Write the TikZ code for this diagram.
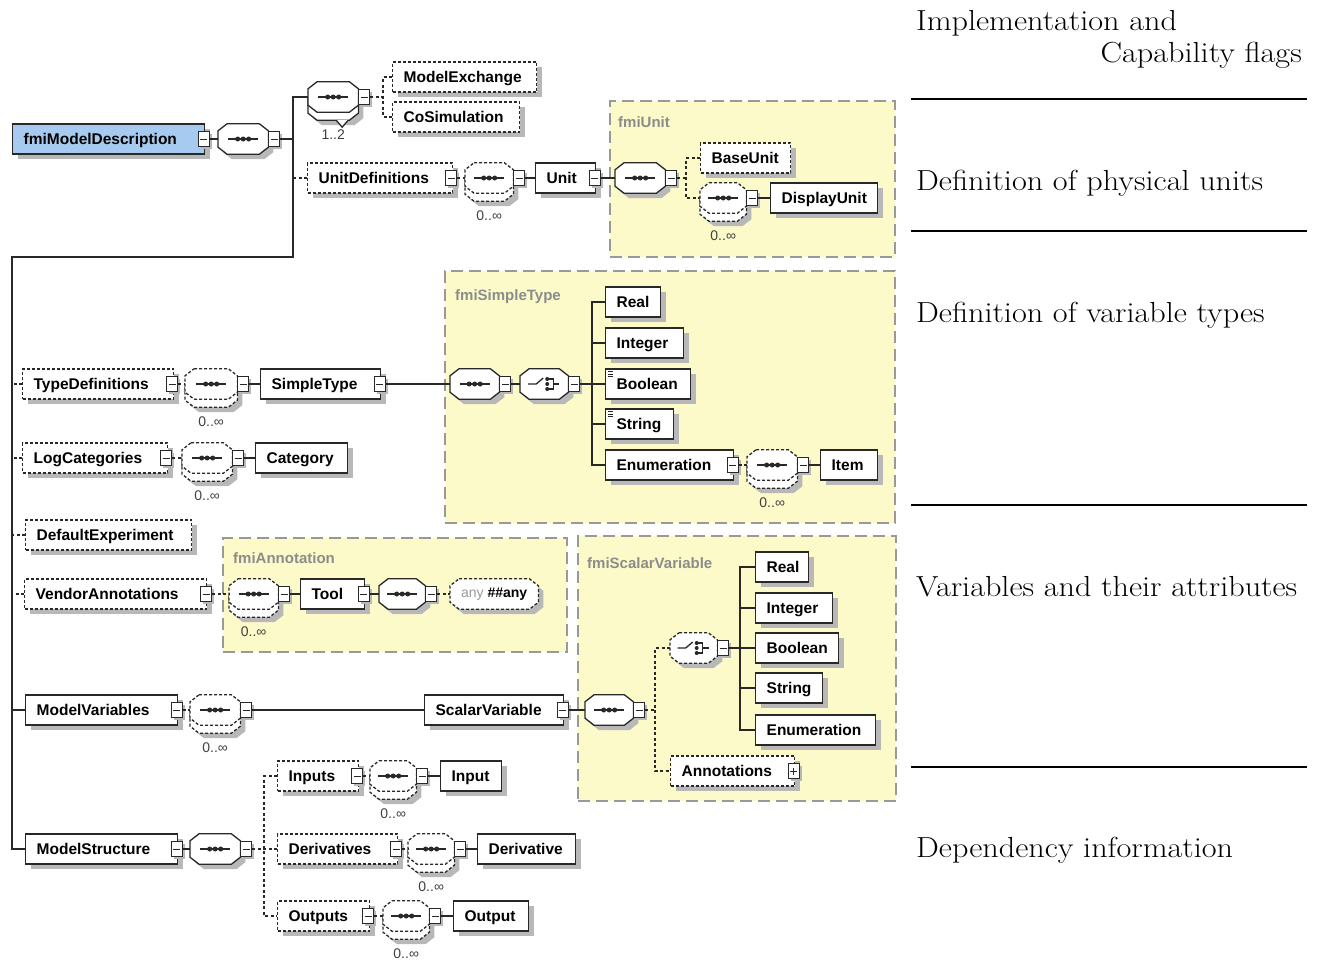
\documentclass[tikz,border=0pt]{standalone}
\usepackage{fontspec}
\usepackage{graphicx}
\newfontfamily\nodefont{Liberation Sans}
\usetikzlibrary{shadows}
\definecolor{grpfill}{RGB}{252,250,200}
\definecolor{rootfill}{RGB}{166,202,240}
\definecolor{lineclr}{RGB}{40,40,40}

\tikzset{
  conn/.style={draw=lineclr, line width=1.4pt},
  optconn/.style={conn, dash pattern=on 3pt off 2.5pt},
  shad/.style={drop shadow={shadow xshift=5pt, shadow yshift=-5pt, fill=black!28, opacity=1}},
  smallshad/.style={drop shadow={shadow xshift=2.5pt, shadow yshift=-2.5pt, fill=black!28, opacity=1}},
  elem/.style={draw=lineclr, line width=1.3pt, fill=white, anchor=west, minimum height=30,
    inner xsep=11, inner ysep=0, text height=12pt, text depth=2pt,
    font=\nodefont\bfseries\fontsize{15.5}{18}\selectfont, align=left, shad},
  bw/.style={text width=#1-22},
  optelem/.style={elem, dash pattern=on 3pt off 2pt},
  pmbox/.style={draw=lineclr, fill=white, line width=1pt, minimum width=11, minimum height=15, inner sep=0, smallshad},
  octbase/.style={anchor=west, minimum height=30, inner sep=0},
  octline/.style={draw=lineclr, line width=1.3pt, fill=white},
  optoctline/.style={octline, dash pattern=on 3pt off 2pt},
  grp/.style={draw=black!40, line width=2pt, dash pattern=on 12pt off 6pt, fill=grpfill, anchor=north west, inner sep=0},
  grplabel/.style={anchor=west, inner sep=0, text=black!45, font=\nodefont\bfseries\fontsize{15}{18}\selectfont},
  mult/.style={inner sep=0, text=black!75, font=\nodefont\fontsize{14}{16}\selectfont},
  note/.style={inner sep=0, font=\fontsize{29}{34}\selectfont},
  sep/.style={draw=black, line width=1.5pt},
}

% wide setting of the explanatory texts
\newcommand{\widetext}[1]{\scalebox{1.11}[1]{#1}}
% element box: style, name, west point, width, label
\newcommand{\elm}[5]{\node[#1, bw=#4] (#2) at (#3) {\mbox{#5}};}
% collapse / expand buttons
\newcommand{\minusat}[2]{\node[pmbox] (#1) at (#2) {};
  \draw[line width=1pt, lineclr] ([xshift=-3.5pt]#1.center) -- ([xshift=3.5pt]#1.center);}
\newcommand{\plusat}[2]{\minusat{#1}{#2}%
  \draw[line width=1pt, lineclr] ([yshift=-3.5pt]#1.center) -- ([yshift=3.5pt]#1.center);}
% octagon outline around a node
\newcommand{\octpath}[2]{\path[#2] ([xshift=9pt]#1.north west) -- ([xshift=-9pt]#1.north east)
  -- ([yshift=-7pt]#1.north east) -- ([yshift=7pt]#1.south east) -- ([xshift=-9pt]#1.south east)
  -- ([xshift=9pt]#1.south west) -- ([yshift=7pt]#1.south west) -- ([yshift=-7pt]#1.north west) -- cycle;}
% sequence symbol
\newcommand{\seqicon}[1]{\draw[line width=1.3pt, lineclr] ([xshift=-15pt]#1.center) -- ([xshift=15pt]#1.center);
  \foreach \d in {-5.5,0,5.5} \fill[lineclr] ([xshift=\d pt]#1.center) circle[radius=2.5pt];}
% choice symbol
\newcommand{\choiceicon}[1]{\begin{scope}[shift={(#1.center)}, line width=1.3pt, lineclr]
  \draw (-16,0) -- (-8,0) -- (-1,-6);
  \draw (3,-5) -- (9,-5) -- (9,5) -- (3,5);
  \draw (9,0) -- (15,0);
  \foreach \d in {-5,0,5} \fill (3,\d) circle[radius=2];
\end{scope}}
% list marker
\newcommand{\listicon}[1]{\foreach \k in {3,5.5,8}
  \draw[line width=0.7pt, lineclr] ([xshift=3pt, yshift=-\k pt]#1.north west) -- ++(5,0);}
% sequence compositor: name, west point, width
\newcommand{\seqc}[3]{\node[octbase, minimum width=#3] (#1) at (#2) {};
  \octpath{#1}{octline, shad}\seqicon{#1}\minusat{#1pm}{[xshift=6pt]#1.east}}
% repeated sequence compositor (0..unbounded): name, west point, width
\newcommand{\repc}[3]{\node[octbase, minimum width=#3, yshift=-8pt] (#1back) at (#2) {};
  \octpath{#1back}{optoctline, shad}
  \node[octbase, minimum width=#3] (#1) at (#2) {};
  \octpath{#1}{optoctline}\seqicon{#1}
  \minusat{#1pm}{[xshift=6pt]#1.east}
  \node[mult] (#1n) at ([yshift=-22pt]#1.south) {0..∞};}

\begin{document}
\begin{tikzpicture}[x=1pt, y=-1pt]
\useasboundingbox (0,0) rectangle (1321,959);

% type groups
\node[grp, minimum width=285, minimum height=156] (gUnit) at (609,100) {};
\node[grplabel] (gUnitL) at (618,122) {fmiUnit};
\node[grp, minimum width=450, minimum height=252] (gType) at (444,270) {};
\node[grplabel] (gTypeL) at (455,297) {fmiSimpleType};
\node[grp, minimum width=344, minimum height=114] (gAnn) at (222,537) {};
\node[grplabel] (gAnnL) at (233,558) {fmiAnnotation};
\node[grp, minimum width=318, minimum height=265] (gVar) at (577,535) {};
\node[grplabel] (gVarL) at (587,563) {fmiScalarVariable};

% root element
\elm{elem, fill=rootfill}{root}{12,139}{192}{fmiModelDescription}
\minusat{rootpm}{[xshift=-1.5pt]root.east}
\seqc{rootseq}{218,139}{50}

% model exchange / co-simulation (1..2)
\node[octbase, minimum width=50, yshift=-8pt] (c12back) at (308,97) {};
\octpath{c12back}{octline, shad}
\draw[octline] ([xshift=3pt]c12back.south) -- ([xshift=9pt,yshift=-7pt]c12back.south) -- ([xshift=15pt]c12back.south);
\node[octbase, minimum width=50] (c12) at (308,97) {};
\octpath{c12}{octline}
\seqicon{c12}
\minusat{c12pm}{[xshift=6pt]c12.east}
\node[mult] (c12n) at ([yshift=-22pt]c12.south) {1..2};
\elm{optelem}{mex}{392,77}{144}{ModelExchange}
\elm{optelem}{cosim}{392,117}{127}{CoSimulation}

% unit definitions
\elm{optelem}{ud}{307,178}{145}{UnitDefinitions}
\minusat{udpm}{[xshift=-2pt]ud.east}
\repc{udm}{465,178}{48}
\elm{elem}{unit}{535,178}{60}{Unit}
\minusat{unitpm}{[xshift=-1.5pt]unit.east}
\seqc{useq}{615,178}{50}
\elm{optelem}{bu}{700,158}{90}{BaseUnit}
\repc{dum}{700,198}{46}
\elm{elem}{du}{770,198}{107}{DisplayUnit}

% type definitions
\elm{optelem}{td}{22,384}{151}{TypeDefinitions}
\minusat{tdpm}{[xshift=-2pt]td.east}
\repc{tdm}{185,384}{52}
\elm{elem}{st}{260,384}{120}{SimpleType}
\minusat{stpm}{[xshift=-1.5pt]st.east}
\seqc{stseq}{450,384}{49}
\node[octbase, minimum width=48] (stch) at (520,384) {};
\octpath{stch}{octline, shad}
\choiceicon{stch}
\minusat{stchpm}{[xshift=6pt]stch.east}
\elm{elem}{sreal}{605,302}{55}{Real}
\elm{elem}{sint}{605,343}{78}{Integer}
\elm{elem}{sbool}{605,384}{85}{Boolean}
\listicon{sbool}
\elm{elem}{sstr}{605,424}{68}{String}
\listicon{sstr}
\elm{elem}{senum}{605,465}{128}{Enumeration}
\minusat{senumpm}{[xshift=-1.5pt]senum.east}
\repc{enm}{747,465}{50}
\elm{elem}{item}{820,465}{57}{Item}

% log categories
\elm{optelem}{lc}{22,458}{145}{LogCategories}
\minusat{lcpm}{[xshift=-2pt]lc.east}
\repc{lcm}{182,458}{50}
\elm{elem}{cat}{255,458}{92}{Category}

% default experiment
\elm{optelem}{dexp}{25,535}{166}{DefaultExperiment}

% vendor annotations
\elm{optelem}{va}{24,594}{182}{VendorAnnotations}
\minusat{vapm}{[xshift=-1pt]va.east}
\repc{vam}{229,594}{49}
\elm{elem}{tool}{300,594}{64}{Tool}
\minusat{toolpm}{[xshift=-1.5pt]tool.east}
\seqc{toolseq}{379,594}{46}
\node[octbase, minimum width=88] (any) at (450,594) {};
\octpath{any}{optoctline, shad}
\node[inner sep=0, font=\nodefont\fontsize{14}{16}\selectfont] (anytxt) at (any.center)
  {\textcolor{black!40}{any} \textbf{\#\#any}};

% model variables
\elm{elem}{mv}{25,710}{152}{ModelVariables}
\minusat{mvpm}{[xshift=-1.5pt]mv.east}
\repc{mvm}{190,710}{50}
\elm{elem}{sv}{424,710}{139}{ScalarVariable}
\minusat{svpm}{[xshift=-1.5pt]sv.east}
\seqc{svseq}{585,710}{48}
\node[octbase, minimum width=47] (svch) at (670,648) {};
\octpath{svch}{optoctline, shad}
\choiceicon{svch}
\minusat{svchpm}{[xshift=6pt]svch.east}
\elm{elem}{vreal}{755,567}{53}{Real}
\elm{elem}{vint}{755,608}{77}{Integer}
\elm{elem}{vbool}{755,648}{83}{Boolean}
\elm{elem}{vstr}{755,688}{67}{String}
\elm{elem}{venum}{755,730}{120}{Enumeration}
\elm{optelem}{ann}{670,771}{124}{Annotations}
\plusat{annpm}{[xshift=-1.5pt]ann.east}

% model structure
\elm{elem}{ms}{25,849}{152}{ModelStructure}
\minusat{mspm}{[xshift=-1.5pt]ms.east}
\seqc{msseq}{190,849}{50}
\elm{optelem}{inp}{277,776}{81}{Inputs}
\minusat{inppm}{[xshift=-2pt]inp.east}
\repc{inpm}{370,776}{46}
\elm{elem}{input}{440,776}{61}{Input}
\elm{optelem}{der}{277,849}{120}{Derivatives}
\minusat{derpm}{[xshift=-2pt]der.east}
\repc{derm}{408,849}{46}
\elm{elem}{deriv}{477,849}{98}{Derivative}
\elm{optelem}{outs}{277,916}{92}{Outputs}
\minusat{outspm}{[xshift=-2pt]outs.east}
\repc{outm}{383,916}{46}
\elm{elem}{output}{453,916}{75}{Output}

% junction points of the connector trees
\coordinate (b1) at (293,257);
\coordinate (b2) at (12,257);
\coordinate (j1) at (383,97);
\coordinate (j2) at (686,178);
\coordinate (j3) at (592,384);
\coordinate (j4) at (655,710);
\coordinate (j5) at (740,648);
\coordinate (j6) at (264,849);

% connectors: root level
\draw[conn] (rootpm.east) -- (rootseq.west);
\draw[conn] (rootseqpm.east) -- (rootseqpm.east -| b1);
\draw[conn] (c12.west) -| (b1) -- (b2) |- (ms.west);
\draw[optconn] (ud.west) -- (ud.west -| b1);
\draw[optconn] (td.west) -- (td.west -| b2);
\draw[optconn] (lc.west) -- (lc.west -| b2);
\draw[optconn] (dexp.west) -- (dexp.west -| b2);
\draw[optconn] (va.west) -- (va.west -| b2);
\draw[conn] (mv.west) -- (mv.west -| b2);

% model exchange / co-simulation
\draw[optconn] (c12pm.east) -- (j1);
\draw[optconn] (mex.west) -| (j1) |- (cosim.west);

% units
\draw[optconn] (udpm.east) -- (udm.west);
\draw[conn] (udmpm.east) -- (unit.west);
\draw[conn] (unitpm.east) -- (useq.west);
\draw[optconn] (useqpm.east) -- (j2);
\draw[optconn] (bu.west) -| (j2) |- (dum.west);
\draw[conn] (dumpm.east) -- (du.west);

% simple types
\draw[optconn] (tdpm.east) -- (tdm.west);
\draw[conn] (tdmpm.east) -- (st.west);
\draw[conn] (stpm.east) -- (stseq.west);
\draw[conn] (stseqpm.east) -- (stch.west);
\draw[conn] (stchpm.east) -- (sbool.west);
\draw[conn] (sreal.west) -| (j3) |- (senum.west);
\draw[conn] (sint.west) -- (sint.west -| j3);
\draw[conn] (sstr.west) -- (sstr.west -| j3);
\draw[optconn] (senumpm.east) -- (enm.west);
\draw[conn] (enmpm.east) -- (item.west);

% log categories
\draw[optconn] (lcpm.east) -- (lcm.west);
\draw[conn] (lcmpm.east) -- (cat.west);

% vendor annotations
\draw[optconn] (vapm.east) -- (vam.west);
\draw[conn] (vampm.east) -- (tool.west);
\draw[conn] (toolpm.east) -- (toolseq.west);
\draw[optconn] (toolseqpm.east) -- (any.west);

% scalar variables
\draw[optconn] (mvpm.east) -- (mvm.west);
\draw[conn] (mvmpm.east) -- (sv.west);
\draw[conn] (svpm.east) -- (svseq.west);
\draw[optconn] (svseqpm.east) -- (j4);
\draw[optconn] (svch.west) -| (j4) |- (ann.west);
\draw[conn] (svchpm.east) -- (vbool.west);
\draw[conn] (vreal.west) -| (j5) |- (venum.west);
\draw[conn] (vint.west) -- (vint.west -| j5);
\draw[conn] (vstr.west) -- (vstr.west -| j5);

% model structure
\draw[conn] (mspm.east) -- (msseq.west);
\draw[optconn] (msseqpm.east) -- (der.west);
\draw[optconn] (inp.west) -| (j6) |- (outs.west);
\draw[optconn] (inppm.east) -- (inpm.west);
\draw[conn] (inpmpm.east) -- (input.west);
\draw[optconn] (derpm.east) -- (derm.west);
\draw[conn] (dermpm.east) -- (deriv.west);
\draw[optconn] (outspm.east) -- (outm.west);
\draw[conn] (outmpm.east) -- (output.west);

% explanations on the right
\node[note, anchor=base west] (n1a) at (916,30) {\widetext{Implementation and}};
\node[note, anchor=base east] (n1b) at (1302,62) {\widetext{Capability flags}};
\draw[sep] (911,99) -- (1307,99);
\node[note, anchor=base west] (n2) at (916,190) {\widetext{Definition of physical units}};
\draw[sep] (911,231) -- (1307,231);
\node[note, anchor=base west] (n3) at (916,322) {\widetext{Definition of variable types}};
\draw[sep] (911,505) -- (1307,505);
\node[note, anchor=base west] (n4) at (916,596) {\widetext{Variables and their attributes}};
\draw[sep] (911,767) -- (1307,767);
\node[note, anchor=base west] (n5) at (916,857) {\widetext{Dependency information}};
\end{tikzpicture}
\end{document}
